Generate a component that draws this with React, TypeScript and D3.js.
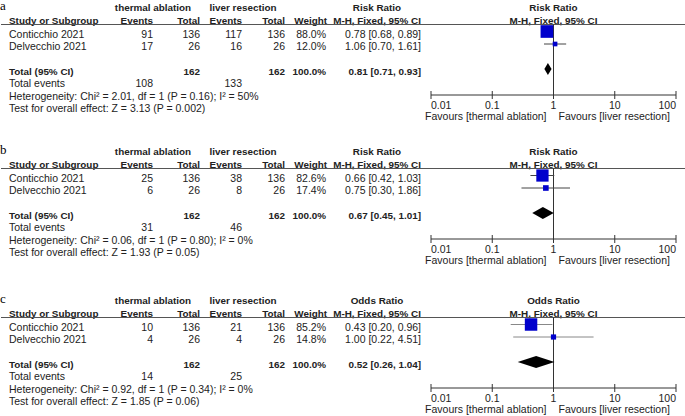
import { useEffect, useRef } from "react";
import * as d3 from "d3";

const WIDTH = 685;
const HEIGHT = 416;

const panelLabels = ["a", "b", "c"];
const measures = ["Risk Ratio", "Risk Ratio", "Odds Ratio"];
const studies = ["Conticchio 2021", "Delvecchio 2021"];
const totalsTA = [136, 26];
const totalsLR = [136, 26];
const eventsTA = [[91, 17], [25, 6], [10, 4]];
const eventsLR = [[117, 16], [38, 8], [21, 4]];
const weights = [[88.0, 12.0], [82.6, 17.4], [85.2, 14.8]];
const estimates = [[0.78, 1.06], [0.66, 0.75], [0.43, 1.0]];
const ciLower = [[0.68, 0.7], [0.42, 0.3], [0.2, 0.22]];
const ciUpper = [[0.89, 1.61], [1.03, 1.86], [0.96, 4.51]];
const pooledEst = [0.81, 0.67, 0.52];
const pooledLower = [0.71, 0.45, 0.26];
const pooledUpper = [0.93, 1.01, 1.04];
const totalEventsTA = [108, 31, 14];
const totalEventsLR = [133, 46, 25];
const chi2 = ["2.01", "0.06", "0.92"];
const hetP = ["0.16", "0.80", "0.34"];
const i2 = [50, 0, 0];
const zValues = ["3.13", "1.93", "1.85"];
const zP = ["0.002", "0.05", "0.06"];
const axisTicks = [0.01, 0.1, 1, 10, 100];

const PANEL_TOP = [0, 144, 293];
const FONT = "'Liberation Sans', Arial, sans-serif";
const TEXT = "#222";

// column right edges
const COL = { study: 9, evA: 153, totA: 200, evB: 242, totB: 285, weight: 326, effect: 421 };

const fmt2 = (v: number) => v.toFixed(2);
const effectText = (e: number, lo: number, hi: number) => `${fmt2(e)} [${fmt2(lo)}, ${fmt2(hi)}]`;

export default function App() {
  const svgRef = useRef<SVGSVGElement>(null);

  useEffect(() => {
    const svg = d3.select(svgRef.current);
    svg.selectAll("*").remove();
    svg.attr("width", WIDTH).attr("height", HEIGHT).attr("viewBox", `0 0 ${WIDTH} ${HEIGHT}`);

    svg.append("rect").attr("width", WIDTH).attr("height", HEIGHT).attr("fill", "#fff");

    const x = d3.scaleLog().domain([0.01, 100]).range([431, 676]);
    const sq = d3.scaleSqrt().domain([0, 100]).range([0, 13.5]);

    panelLabels.forEach((label, p) => {
      const g = svg.append("g").attr("transform", `translate(0,${PANEL_TOP[p]})`);

      const txt = (tx: number, ty: number, s: string, anchor = "start", bold = false) =>
        g.append("text")
          .attr("x", tx)
          .attr("y", ty)
          .attr("text-anchor", anchor)
          .attr("font-family", FONT)
          .attr("font-size", bold ? 9.9 : 10.5)
          .attr("font-weight", bold ? "bold" : "normal")
          .attr("fill", TEXT)
          .text(s);

      // panel letter
      g.append("text")
        .attr("x", 0)
        .attr("y", 9.5)
        .attr("font-family", "'Liberation Serif', 'Times New Roman', serif")
        .attr("font-size", 13)
        .attr("fill", "#000")
        .text(label);

      // group headers
      txt(153, 11, "thermal ablation", "middle", true);
      txt(243, 11, "liver resection", "middle", true);
      txt(377, 11, measures[p], "middle", true);
      txt(x(1), 11, measures[p], "middle", true);

      // column headers
      txt(COL.study, 24, "Study or Subgroup", "start", true);
      txt(COL.evA, 24, "Events", "end", true);
      txt(COL.totA, 24, "Total", "end", true);
      txt(COL.evB, 24, "Events", "end", true);
      txt(COL.totB, 24, "Total", "end", true);
      txt(COL.weight + 1, 24, "Weight", "end", true);
      txt(COL.effect, 24, "M-H, Fixed, 95% CI", "end", true);
      txt(x(1), 24, "M-H, Fixed, 95% CI", "middle", true);

      g.append("line")
        .attr("x1", 1).attr("x2", WIDTH)
        .attr("y1", 24.5).attr("y2", 24.5)
        .attr("stroke", "#555").attr("stroke-width", 1);

      const axisY = 95;

      // line of no effect
      g.append("line")
        .attr("x1", x(1)).attr("x2", x(1))
        .attr("y1", 24.5).attr("y2", axisY)
        .attr("stroke", "#333").attr("stroke-width", 1);

      const ciColor = p === 2 ? "#888" : "#444";

      studies.forEach((name, i) => {
        const base = 37.5 + i * 12.5;
        txt(COL.study, base, name);
        txt(COL.evA, base, String(eventsTA[p][i]), "end");
        txt(COL.totA, base, String(totalsTA[i]), "end");
        txt(COL.evB, base, String(eventsLR[p][i]), "end");
        txt(COL.totB, base, String(totalsLR[i]), "end");
        txt(COL.weight, base, `${weights[p][i].toFixed(1)}%`, "end");
        txt(COL.effect, base, effectText(estimates[p][i], ciLower[p][i], ciUpper[p][i]), "end");

        const cy = base - 6;
        g.append("line")
          .attr("x1", x(ciLower[p][i])).attr("x2", x(ciUpper[p][i]))
          .attr("y1", cy).attr("y2", cy)
          .attr("stroke", ciColor).attr("stroke-width", 1);
        const s = sq(weights[p][i]);
        g.append("rect")
          .attr("x", x(estimates[p][i]) - s / 2)
          .attr("y", cy - s / 2)
          .attr("width", s)
          .attr("height", s)
          .attr("fill", "#0000cc");
      });

      // total row
      const tb = 74.5;
      txt(COL.study, tb, "Total (95% CI)", "start", true);
      txt(COL.totA, tb, "162", "end", true);
      txt(COL.totB, tb, "162", "end", true);
      txt(COL.weight, tb, "100.0%", "end", true);
      txt(COL.effect, tb, effectText(pooledEst[p], pooledLower[p], pooledUpper[p]), "end", true);

      const dy = tb - 5.5;
      g.append("polygon")
        .attr("points", [
          `${x(pooledLower[p])},${dy}`,
          `${x(pooledEst[p])},${dy - 6}`,
          `${x(pooledUpper[p])},${dy}`,
          `${x(pooledEst[p])},${dy + 6}`,
        ].join(" "))
        .attr("fill", "#000");

      txt(COL.study, 87, "Total events");
      txt(COL.evA, 87, String(totalEventsTA[p]), "end");
      txt(COL.evB, 87, String(totalEventsLR[p]), "end");
      txt(COL.study, 99.5, `Heterogeneity: Chi\u00b2 = ${chi2[p]}, df = 1 (P = ${hetP[p]}); I\u00b2 = ${i2[p]}%`);
      txt(COL.study, 112, `Test for overall effect: Z = ${zValues[p]} (P = ${zP[p]})`);

      // axis
      g.append("line")
        .attr("x1", x(0.01)).attr("x2", x(100))
        .attr("y1", axisY).attr("y2", axisY)
        .attr("stroke", "#333").attr("stroke-width", 1);
      axisTicks.forEach((t, k) => {
        g.append("line")
          .attr("x1", x(t)).attr("x2", x(t))
          .attr("y1", axisY - 4).attr("y2", axisY + 4)
          .attr("stroke", "#333").attr("stroke-width", 1);
        const anchor = k === 0 ? "start" : k === axisTicks.length - 1 ? "end" : "middle";
        txt(x(t), 109, String(t), anchor);
      });
      txt(x(1) - 7, 119.5, "Favours [thermal ablation]", "end");
      txt(x(1) + 5, 119.5, "Favours [liver resection]", "start");
    });
  }, []);

  return <svg ref={svgRef} style={{ position: "absolute", left: 0, top: 0 }} />;
}
